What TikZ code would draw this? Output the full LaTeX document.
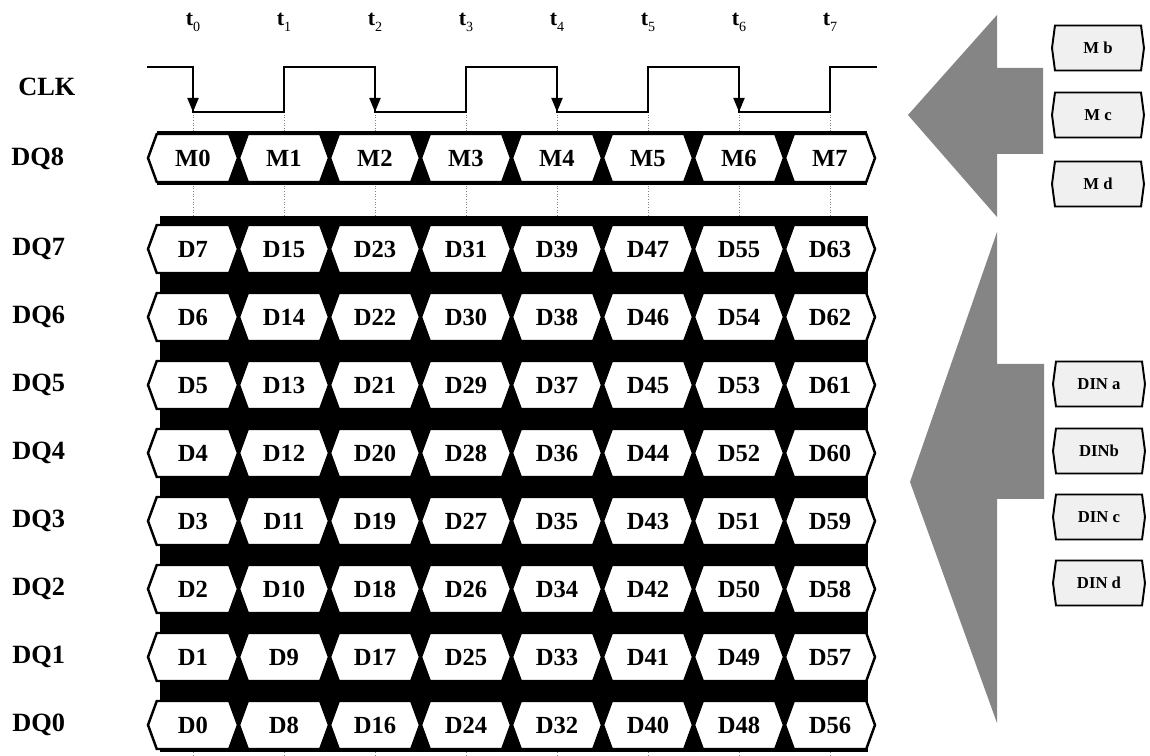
\documentclass[tikz,border=0pt]{standalone}
\usepackage{fontspec}
\setmainfont{Liberation Serif}
\usetikzlibrary{shapes.symbols,arrows.meta}
\tikzset{
  cell/.style   = {signal, signal to=east and west, signal pointer angle=140, draw, fill=white, line width=1.4pt, minimum width=1.8cm, minimum height=0.96cm, inner sep=0, text height=9.2pt, text depth=0pt, font=\fontsize{14}{16}\selectfont\bfseries},
  reg/.style    = {signal, signal to=east and west, signal pointer angle=165, draw, fill=gray!12, line width=1.1pt, minimum width=1.84cm, minimum height=0.9cm, inner sep=0, text height=6.3pt, text depth=0pt, font=\fontsize{9.5}{11}\selectfont\bfseries},
  rowlbl/.style = {anchor=west, inner sep=0, text height=9.9pt, text depth=0pt, font=\fontsize{15}{18}\selectfont\bfseries},
  tlbl/.style   = {inner sep=0, font=\fontsize{12.5}{14}\selectfont},
  clk/.style    = {line width=1.1pt},
  fall/.style   = {line width=1.1pt, -{Triangle[length=0.28cm, width=0.22cm]}},
  guide/.style  = {densely dotted, line width=0.5pt, gray},
  band/.style   = {fill=black},
  bigarr/.style = {fill=black!48}
}

\begin{document}
\begin{tikzpicture}[x=0.02cm, y=-0.02cm]
  \useasboundingbox (0,0) rectangle (1150,756);
  % clock edges
  \foreach \i in {0,...,7} {
    \coordinate (lo\i) at ({193+91*\i},112); \coordinate (hi\i) at ({193+91*\i},67); \coordinate (bt\i) at ({193+91*\i},756);
    \node[tlbl] (t\i) at ({193+91*\i},22) {\textbf{t}\raisebox{-0.6ex}{\fontsize{8}{9}\selectfont\i}};
    \draw[guide] (lo\i) -- (bt\i);
  }
  \draw[clk] (147,67) -| (lo0) -| (hi1) -| (lo2) -| (hi3) -| (lo4) -| (hi5) -| (lo6) -| (hi7) -- (877,67);
  \foreach \i in {0,2,4,6} \draw[fall] (hi\i) -- (lo\i);
  % labels
  \node[rowlbl] (clk) at (18,87) {CLK};
  \node[rowlbl] (dq8) at (11,157) {DQ8};
  \foreach \k in {0,...,7} \node[rowlbl] (dq\k) at (12,{247+68*(7-\k)}) {DQ\k};
  % buses
  \fill[band] (157,131) rectangle (867,185);
  \fill[band] (160,216) rectangle (868,752);
  \foreach \i in {0,...,7} \node[cell] (m\i) at ({193+91*\i},158) {M\i};
  \foreach \k in {0,...,7} \foreach \i in {0,...,7} {
    \pgfmathtruncatemacro\n{8*\i+\k}
    \node[cell] (d\k-\i) at ({193+91*\i},{249+68*(7-\k)}) {D\n};
  }
  % registers
  \fill[bigarr] (1043,68) -- (997,68) -- (997,15) -- (908,115) -- (997,217) -- (997,154) -- (1043,154) -- cycle;
  \fill[bigarr] (1044,364) -- (997,364) -- (997,232) -- (910,482) -- (997,723) -- (997,499) -- (1044,499) -- cycle;
  \node[reg] (mb) at (1098,48) {M b};
  \node[reg] (mc) at (1098,115) {M c};
  \node[reg] (md) at (1098,184) {M d};
  \node[reg] (dina) at (1099,384) {DIN a};
  \node[reg] (dinb) at (1099,451) {DINb};
  \node[reg] (dinc) at (1099,517) {DIN c};
  \node[reg] (dind) at (1099,583) {DIN d};
\end{tikzpicture}
\end{document}
